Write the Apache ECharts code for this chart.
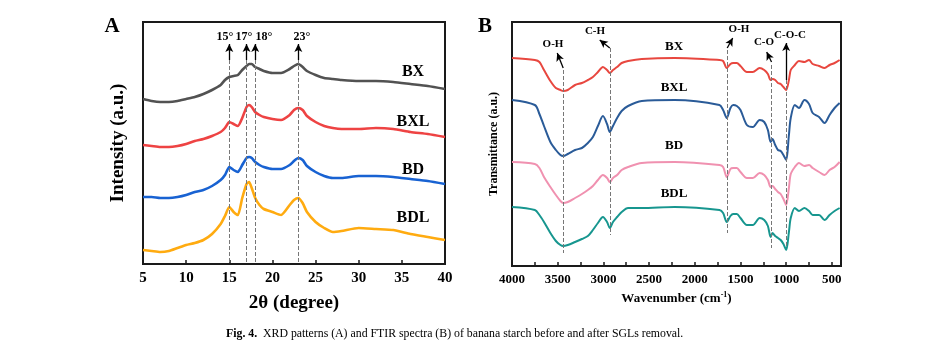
<!DOCTYPE html>
<html>
<head>
<meta charset="utf-8">
<script src="https://cdn.jsdelivr.net/npm/echarts@6/dist/echarts.min.js"></script>
<style>
  html, body { margin: 0; padding: 0; background: #fff; }
  #chart { width: 949px; height: 354px; }
</style>
</head>
<body>
<div id="chart"></div>
<script>
// XRD (panel A): 2theta and relative intensity (a.u., stacked)
const xrdTheta = [5, 6, 7, 8, 9, 10, 11, 12, 13, 14, 14.5, 15, 15.5, 16, 16.5, 17, 17.3, 17.6, 18, 18.5, 19, 20, 21, 22, 22.5, 23, 23.5, 24, 25, 26, 27, 28, 30, 32, 34, 36, 38, 40]
const xrdBX  = [165, 163, 162, 162, 163, 165, 167, 170, 174, 179, 184, 187, 188, 189, 194, 198, 200, 200, 197, 195, 193, 191, 191, 195, 198, 200, 197, 193, 189, 186, 185, 184, 183, 183, 182, 180, 178, 175]
const xrdBXL = [119, 118, 117, 117, 118, 120, 123, 125, 128, 132, 136, 142, 140, 138, 146, 157, 159, 157, 152, 149, 147, 145, 144, 149, 154, 156, 154, 148, 142, 138, 136, 135, 135, 136, 135, 132, 130, 127]
const xrdBD  = [67, 67, 66, 66, 67, 69, 72, 74, 78, 84, 89, 97, 94, 92, 99, 106, 107, 106, 102, 99, 97, 95, 95, 99, 103, 106, 104, 98, 92, 88, 86, 86, 88, 88, 87, 85, 83, 80]
const xrdBDL = [14, 13, 12, 13, 16, 19, 21, 24, 30, 40, 48, 57, 52, 49, 66, 80, 82, 76, 66, 59, 55, 52, 49, 59, 64, 66, 61, 52, 42, 36, 32, 33, 36, 35, 34, 30, 27, 24]
const xrdPeaks = [15, 17, 18, 23]

// FTIR (panel B): wavenumber and transmittance (a.u., stacked)
const ftirWave = [4000, 3750, 3700, 3650, 3580, 3520, 3470, 3440, 3390, 3310, 3235, 3170, 3115, 3060, 3005, 2960, 2930, 2895, 2850, 2800, 2730, 2580, 2220,
  1730, 1690, 1650, 1610, 1580, 1540, 1500, 1430, 1365, 1290, 1240, 1200, 1170, 1150, 1120, 1090, 1060, 1030, 1000, 970, 950, 905, 860, 800, 750, 710, 640, 580, 525, 470, 415]
const ftirBX  = [208, 206, 204, 196, 185, 178, 176, 175, 176, 181, 183, 186, 189, 194, 199, 196, 193, 196, 199, 203, 205, 207, 208,
  206, 205, 198, 202, 203, 203, 200, 194, 194, 198, 196, 192, 186, 187, 186, 183, 182, 179, 176, 186, 196, 201, 205, 204, 206, 202, 200, 198, 201, 203, 206]
const ftirBXL = [166, 161, 152, 140, 124, 116, 111, 110, 112, 116, 118, 123, 129, 140, 150, 142, 134, 140, 148, 155, 160, 165, 166,
  161, 156, 148, 158, 161, 160, 156, 141, 139, 146, 144, 136, 124, 127, 121, 116, 115, 111, 106, 131, 148, 161, 158, 166, 162, 153, 149, 143, 151, 158, 163]
const ftirBD  = [104, 102, 98, 89, 79, 71, 65, 63, 64, 68, 72, 76, 80, 86, 91, 88, 84, 88, 91, 96, 99, 103, 104,
  101, 99, 89, 97, 98, 98, 94, 88, 88, 93, 91, 86, 79, 80, 77, 74, 72, 67, 61, 78, 92, 99, 103, 100, 101, 98, 94, 91, 96, 99, 104]
const ftirBDL = [59, 56, 51, 44, 33, 25, 21, 20, 21, 24, 27, 30, 36, 43, 49, 44, 38, 44, 49, 54, 58, 58, 59,
  56, 53, 44, 50, 52, 52, 48, 41, 41, 48, 46, 40, 29, 33, 30, 28, 26, 22, 16, 34, 48, 58, 55, 58, 55, 51, 51, 46, 51, 55, 58]
const ftirBands = [3440, 2930, 1645, 1160, 1000]

const serif = 'Liberation Serif'

function pairs(xs, ys) {
  return xs.map((x, i) => [x, ys[i]])
}

function xrdLine(name, values, color) {
  return {
    name,
    type: 'line',
    xAxisIndex: 0,
    yAxisIndex: 0,
    symbol: 'none',
    smooth: 0.2,
    lineStyle: { width: 2.6, color },
    data: pairs(xrdTheta, values)
  }
}

function ftirLine(name, values, color) {
  return {
    name,
    type: 'line',
    xAxisIndex: 1,
    yAxisIndex: 1,
    symbol: 'none',
    smooth: 0.3,
    lineStyle: { width: 2, color },
    data: pairs(ftirWave, values)
  }
}

function text(str, x, y, size, extra) {
  return {
    type: 'text',
    x,
    y,
    silent: true,
    style: Object.assign({
      text: str,
      fill: '#000',
      fontFamily: serif,
      fontWeight: 'bold',
      fontSize: size,
      textAlign: 'center',
      textVerticalAlign: 'middle'
    }, extra || {})
  }
}

const dashStyle = { type: 'dashed', color: '#777', width: 1 }
const arrowStyle = { type: 'solid', color: '#000', width: 1.3 }

const seriesA = [
  xrdLine('BX', xrdBX, '#525252'),
  xrdLine('BXL', xrdBXL, '#ee4343'),
  xrdLine('BD', xrdBD, '#1862d2'),
  xrdLine('BDL', xrdBDL, '#ffab10')
]
seriesA[0].markLine = {
  silent: true,
  animation: false,
  symbol: 'none',
  label: { show: false },
  data: xrdPeaks.map(p => [
    { coord: [p, 204], lineStyle: dashStyle },
    { coord: [p, 0] }
  ]).concat(xrdPeaks.map(p => [
    { coord: [p, 204], lineStyle: arrowStyle, symbol: 'none' },
    { coord: [p, 220], symbol: 'arrow', symbolSize: [6, 8] }
  ]))
}

const seriesB = [
  ftirLine('BX', ftirBX, '#e8473f'),
  ftirLine('BXL', ftirBXL, '#2a5b98'),
  ftirLine('BD', ftirBD, '#f091b0'),
  ftirLine('BDL', ftirBDL, '#17968f')
]
const bandTop = [196, 218, 216, 201, 186]
const bandBottom = [13, 31, 33, 18, 18]
const arrowTail = [[3440, 198], [2930, 218], [1645, 218], [1160, 204], [1000, 186]]
const arrowTip = [[3505, 213], [3040, 226], [1585, 228], [1213, 214], [1000, 223]]
seriesB[0].markLine = {
  silent: true,
  animation: false,
  symbol: 'none',
  label: { show: false },
  data: ftirBands.map((b, i) => [
    { coord: [b, bandTop[i]], lineStyle: dashStyle },
    { coord: [b, bandBottom[i]] }
  ]).concat(arrowTail.map((t, i) => [
    { coord: t, lineStyle: arrowStyle, symbol: 'none' },
    { coord: arrowTip[i], symbol: 'arrow', symbolSize: [6, 8] }
  ]))
}

const chart = echarts.init(document.getElementById('chart'))

chart.setOption({
  animation: false,
  backgroundColor: '#fff',
  grid: [
    { left: 143, top: 22, width: 302, height: 242, show: true, borderColor: '#1a1a1a', borderWidth: 2, backgroundColor: 'transparent' },
    { left: 512, top: 22, width: 329, height: 244, show: true, borderColor: '#1a1a1a', borderWidth: 2, backgroundColor: 'transparent' }
  ],
  xAxis: [
    {
      type: 'value',
      gridIndex: 0,
      min: 5,
      max: 40,
      interval: 5,
      name: '2θ (degree)',
      nameLocation: 'middle',
      nameGap: 30,
      nameTextStyle: { fontFamily: serif, fontWeight: 'bold', fontSize: 19, color: '#000' },
      axisLine: { onZero: false, lineStyle: { color: '#1a1a1a', width: 2 } },
      axisTick: { inside: true, length: 4, lineStyle: { color: '#1a1a1a', width: 1.5 } },
      axisLabel: { fontFamily: serif, fontWeight: 'bold', fontSize: 15, color: '#000', margin: 7 },
      splitLine: { show: false }
    },
    {
      type: 'value',
      gridIndex: 1,
      min: 400,
      max: 4000,
      inverse: true,
      minInterval: 250,
      maxInterval: 250,
      name: 'Wavenumber (cm{sup|-1})',
      nameLocation: 'middle',
      nameGap: 23,
      nameTextStyle: {
        fontFamily: serif, fontWeight: 'bold', fontSize: 13, color: '#000',
        rich: { sup: { fontFamily: serif, fontWeight: 'bold', fontSize: 8, color: '#000', verticalAlign: 'top', padding: [0, 0, 7, 0] } }
      },
      axisLine: { onZero: false, lineStyle: { color: '#1a1a1a', width: 2 } },
      axisTick: { inside: true, length: 4, lineStyle: { color: '#1a1a1a', width: 1.5 } },
      axisLabel: {
        fontFamily: serif, fontWeight: 'bold', fontSize: 13, color: '#000', margin: 7,
        formatter: v => (v % 500 === 0 ? String(v) : '')
      },
      splitLine: { show: false }
    }
  ],
  yAxis: [
    {
      type: 'value',
      gridIndex: 0,
      min: 0,
      max: 242,
      name: 'Intensity (a.u.)',
      nameLocation: 'middle',
      nameGap: 15,
      nameTextStyle: { fontFamily: serif, fontWeight: 'bold', fontSize: 19, color: '#000' },
      axisLine: { show: true, lineStyle: { color: '#1a1a1a', width: 2 } },
      axisTick: { show: false },
      axisLabel: { show: false },
      splitLine: { show: false }
    },
    {
      type: 'value',
      gridIndex: 1,
      min: 0,
      max: 244,
      name: 'Transmittance (a.u.)',
      nameLocation: 'middle',
      nameGap: 12,
      nameTextStyle: { fontFamily: serif, fontWeight: 'bold', fontSize: 12, color: '#000' },
      axisLine: { show: true, lineStyle: { color: '#1a1a1a', width: 2 } },
      axisTick: { show: false },
      axisLabel: { show: false },
      splitLine: { show: false }
    }
  ],
  series: seriesA.concat(seriesB),
  graphic: [
    text('A', 112, 27, 21),
    text('B', 485, 27, 21),
    text('BX', 413, 72, 16),
    text('BXL', 413, 122, 16),
    text('BD', 413, 170, 16),
    text('BDL', 413, 218, 16),
    text('15°', 225, 37, 12),
    text('17°', 244, 37, 12),
    text('18°', 264, 37, 12),
    text('23°', 302, 37, 12),
    text('BX', 674, 47, 13),
    text('BXL', 674, 88, 13),
    text('BD', 674, 146, 13),
    text('BDL', 674, 194, 13),
    text('O-H', 553, 44, 11),
    text('C-H', 595, 31, 11),
    text('O-H', 739, 29, 11),
    text('C-O', 764, 42, 11),
    text('C-O-C', 790, 35, 11),
    text('{b|Fig. 4.}  XRD patterns (A) and FTIR spectra (B) of banana starch before and after SGLs removal.', 226, 334, 11.8, {
      fontWeight: 'normal',
      textAlign: 'left',
      rich: { b: { fontFamily: serif, fontWeight: 'bold', fontSize: 11.8, fill: '#000' } }
    })
  ]
})
</script>
</body>
</html>
